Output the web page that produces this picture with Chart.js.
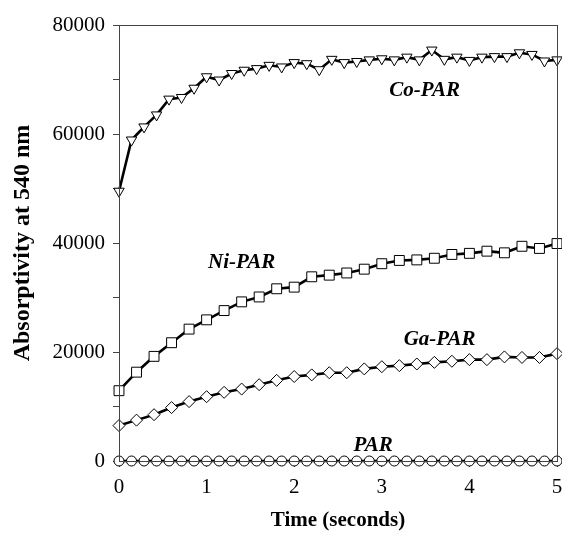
<!DOCTYPE html>
<html lang="en">
<head>
  <meta charset="UTF-8" />
  <title>Absorptivity at 540 nm</title>
  <style>
    html, body { margin: 0; padding: 0; background: #ffffff; }
    #wrap { width: 562px; height: 533px; }
  </style>
</head>
<body>
  <div id="wrap"><canvas id="chart"></canvas></div>

  <script src="https://cdn.jsdelivr.net/npm/chart.js@4"></script>
  <script>
    // time points (s)
    const fastTime = [0, 0.143, 0.286, 0.429, 0.571, 0.714, 0.857, 1.0, 1.143, 1.286, 1.429, 1.571,
      1.714, 1.857, 2.0, 2.143, 2.286, 2.429, 2.571, 2.714, 2.857, 3.0, 3.143, 3.286,
      3.429, 3.571, 3.714, 3.857, 4.0, 4.143, 4.286, 4.429, 4.571, 4.714, 4.857, 5.0];
    const slowTime = [0, 0.2, 0.4, 0.6, 0.8, 1.0, 1.2, 1.4, 1.6, 1.8, 2.0, 2.2, 2.4,
      2.6, 2.8, 3.0, 3.2, 3.4, 3.6, 3.8, 4.0, 4.2, 4.4, 4.6, 4.8, 5.0];

    // absorptivity values
    const coPar = [49500, 58900, 61300, 63500, 66400, 66700, 68400, 70500, 69900, 71100, 71700, 72000,
      72600, 72300, 73100, 72900, 71800, 73700, 73100, 73300, 73600, 73800, 73600, 74100,
      73600, 75400, 73700, 74100, 73500, 74100, 74200, 74200, 74900, 74600, 73400, 73600];
    const niPar = [12900, 16300, 19200, 21700, 24200, 25900, 27600, 29200, 30100, 31600, 31900, 33800, 34100,
      34500, 35200, 36200, 36800, 36900, 37200, 37900, 38100, 38500, 38200, 39400, 39000, 39900];
    const gaPar = [6500, 7500, 8500, 9800, 10900, 11800, 12600, 13200, 14000, 14800, 15500, 15800, 16200,
      16200, 16900, 17300, 17500, 17800, 18100, 18300, 18600, 18600, 19100, 19000, 19000, 19700];
    const par = [0, 0, 0, 0, 0, 0, 0, 0, 0, 0, 0, 0, 0, 0, 0, 0, 0, 0,
      0, 0, 0, 0, 0, 0, 0, 0, 0, 0, 0, 0, 0, 0, 0, 0, 0, 0];

    // series names and where their labels sit (data units)
    const seriesNames = ['Co-PAR', 'Ni-PAR', 'Ga-PAR', 'PAR'];
    const nameAtX = [3.49, 1.40, 3.66, 2.90];
    const nameAtY = [68000, 36400, 22200, 2900];

    const serif = '"Liberation Serif", "Times New Roman", Times, serif';
    const axisGray = '#444444';

    function pairs(xs, ys) {
      return xs.map((x, i) => ({ x: x, y: ys[i] }));
    }

    function series(data, style, radius, rotation) {
      return {
        data: data,
        borderColor: '#000000',
        borderWidth: 2.6,
        pointStyle: style,
        pointRadius: radius,
        pointRotation: rotation || 0,
        pointBackgroundColor: '#ffffff',
        pointBorderColor: '#000000',
        pointBorderWidth: 1,
        tension: 0,
        clip: false
      };
    }

    // box round the plot + the italic series names
    const decorations = {
      id: 'decorations',
      afterDatasetsDraw(chart) {
        const { ctx, chartArea, scales } = chart;
        ctx.save();
        ctx.strokeStyle = axisGray;
        ctx.lineWidth = 1;
        ctx.strokeRect(Math.round(chartArea.left) + 0.5, Math.round(chartArea.top) + 0.5,
          Math.round(chartArea.right - chartArea.left), Math.round(chartArea.bottom - chartArea.top));
        ctx.fillStyle = '#000000';
        ctx.font = 'italic bold 21px ' + serif;
        ctx.textAlign = 'center';
        ctx.textBaseline = 'middle';
        seriesNames.forEach((name, i) => {
          ctx.fillText(name, scales.x.getPixelForValue(nameAtX[i]), scales.y.getPixelForValue(nameAtY[i]));
        });
        ctx.restore();
      }
    };

    new Chart(document.getElementById('chart'), {
      type: 'line',
      data: {
        datasets: [
          series(pairs(fastTime, coPar), 'triangle', 6, 180),
          series(pairs(slowTime, niPar), 'rect', 7),
          series(pairs(slowTime, gaPar), 'rectRot', 6),
          series(pairs(fastTime, par), 'circle', 5)
        ]
      },
      options: {
        responsive: true,
        maintainAspectRatio: false,
        animation: false,
        layout: { autoPadding: false, padding: { left: 0, right: 5, top: 25, bottom: 0 } },
        plugins: { legend: { display: false }, tooltip: { enabled: false } },
        scales: {
          x: {
            type: 'linear',
            min: 0,
            max: 5,
            afterFit(scale) {
              scale.height = 72;
              scale.paddingRight = 0;
              scale.paddingLeft = 0;
            },
            grid: { drawOnChartArea: false, tickLength: 6, color: axisGray },
            border: { color: axisGray },
            ticks: {
              stepSize: 1,
              padding: 8,
              color: '#000000',
              font: { family: serif, size: 21 },
              callback: v => String(v)
            },
            title: {
              display: true,
              text: 'Time (seconds)',
              color: '#000000',
              font: { family: serif, size: 21, weight: 'bold', lineHeight: 1.2 },
              padding: { top: 0, bottom: 0 }
            }
          },
          y: {
            min: 0,
            max: 80000,
            afterFit(scale) { scale.width = 119; },
            grid: { drawOnChartArea: false, tickLength: 6, color: axisGray },
            border: { color: axisGray },
            ticks: {
              stepSize: 10000,
              padding: 8,
              color: '#000000',
              font: { family: serif, size: 21 },
              callback: v => (v % 20000 === 0 ? String(v) : '')
            },
            title: {
              display: true,
              text: 'Absorptivity at 540 nm',
              color: '#000000',
              font: { family: serif, size: 24, weight: 'bold', lineHeight: 1.2 },
              padding: { top: 8, bottom: 0 }
            }
          }
        }
      },
      plugins: [decorations]
    });
  </script>
</body>
</html>
